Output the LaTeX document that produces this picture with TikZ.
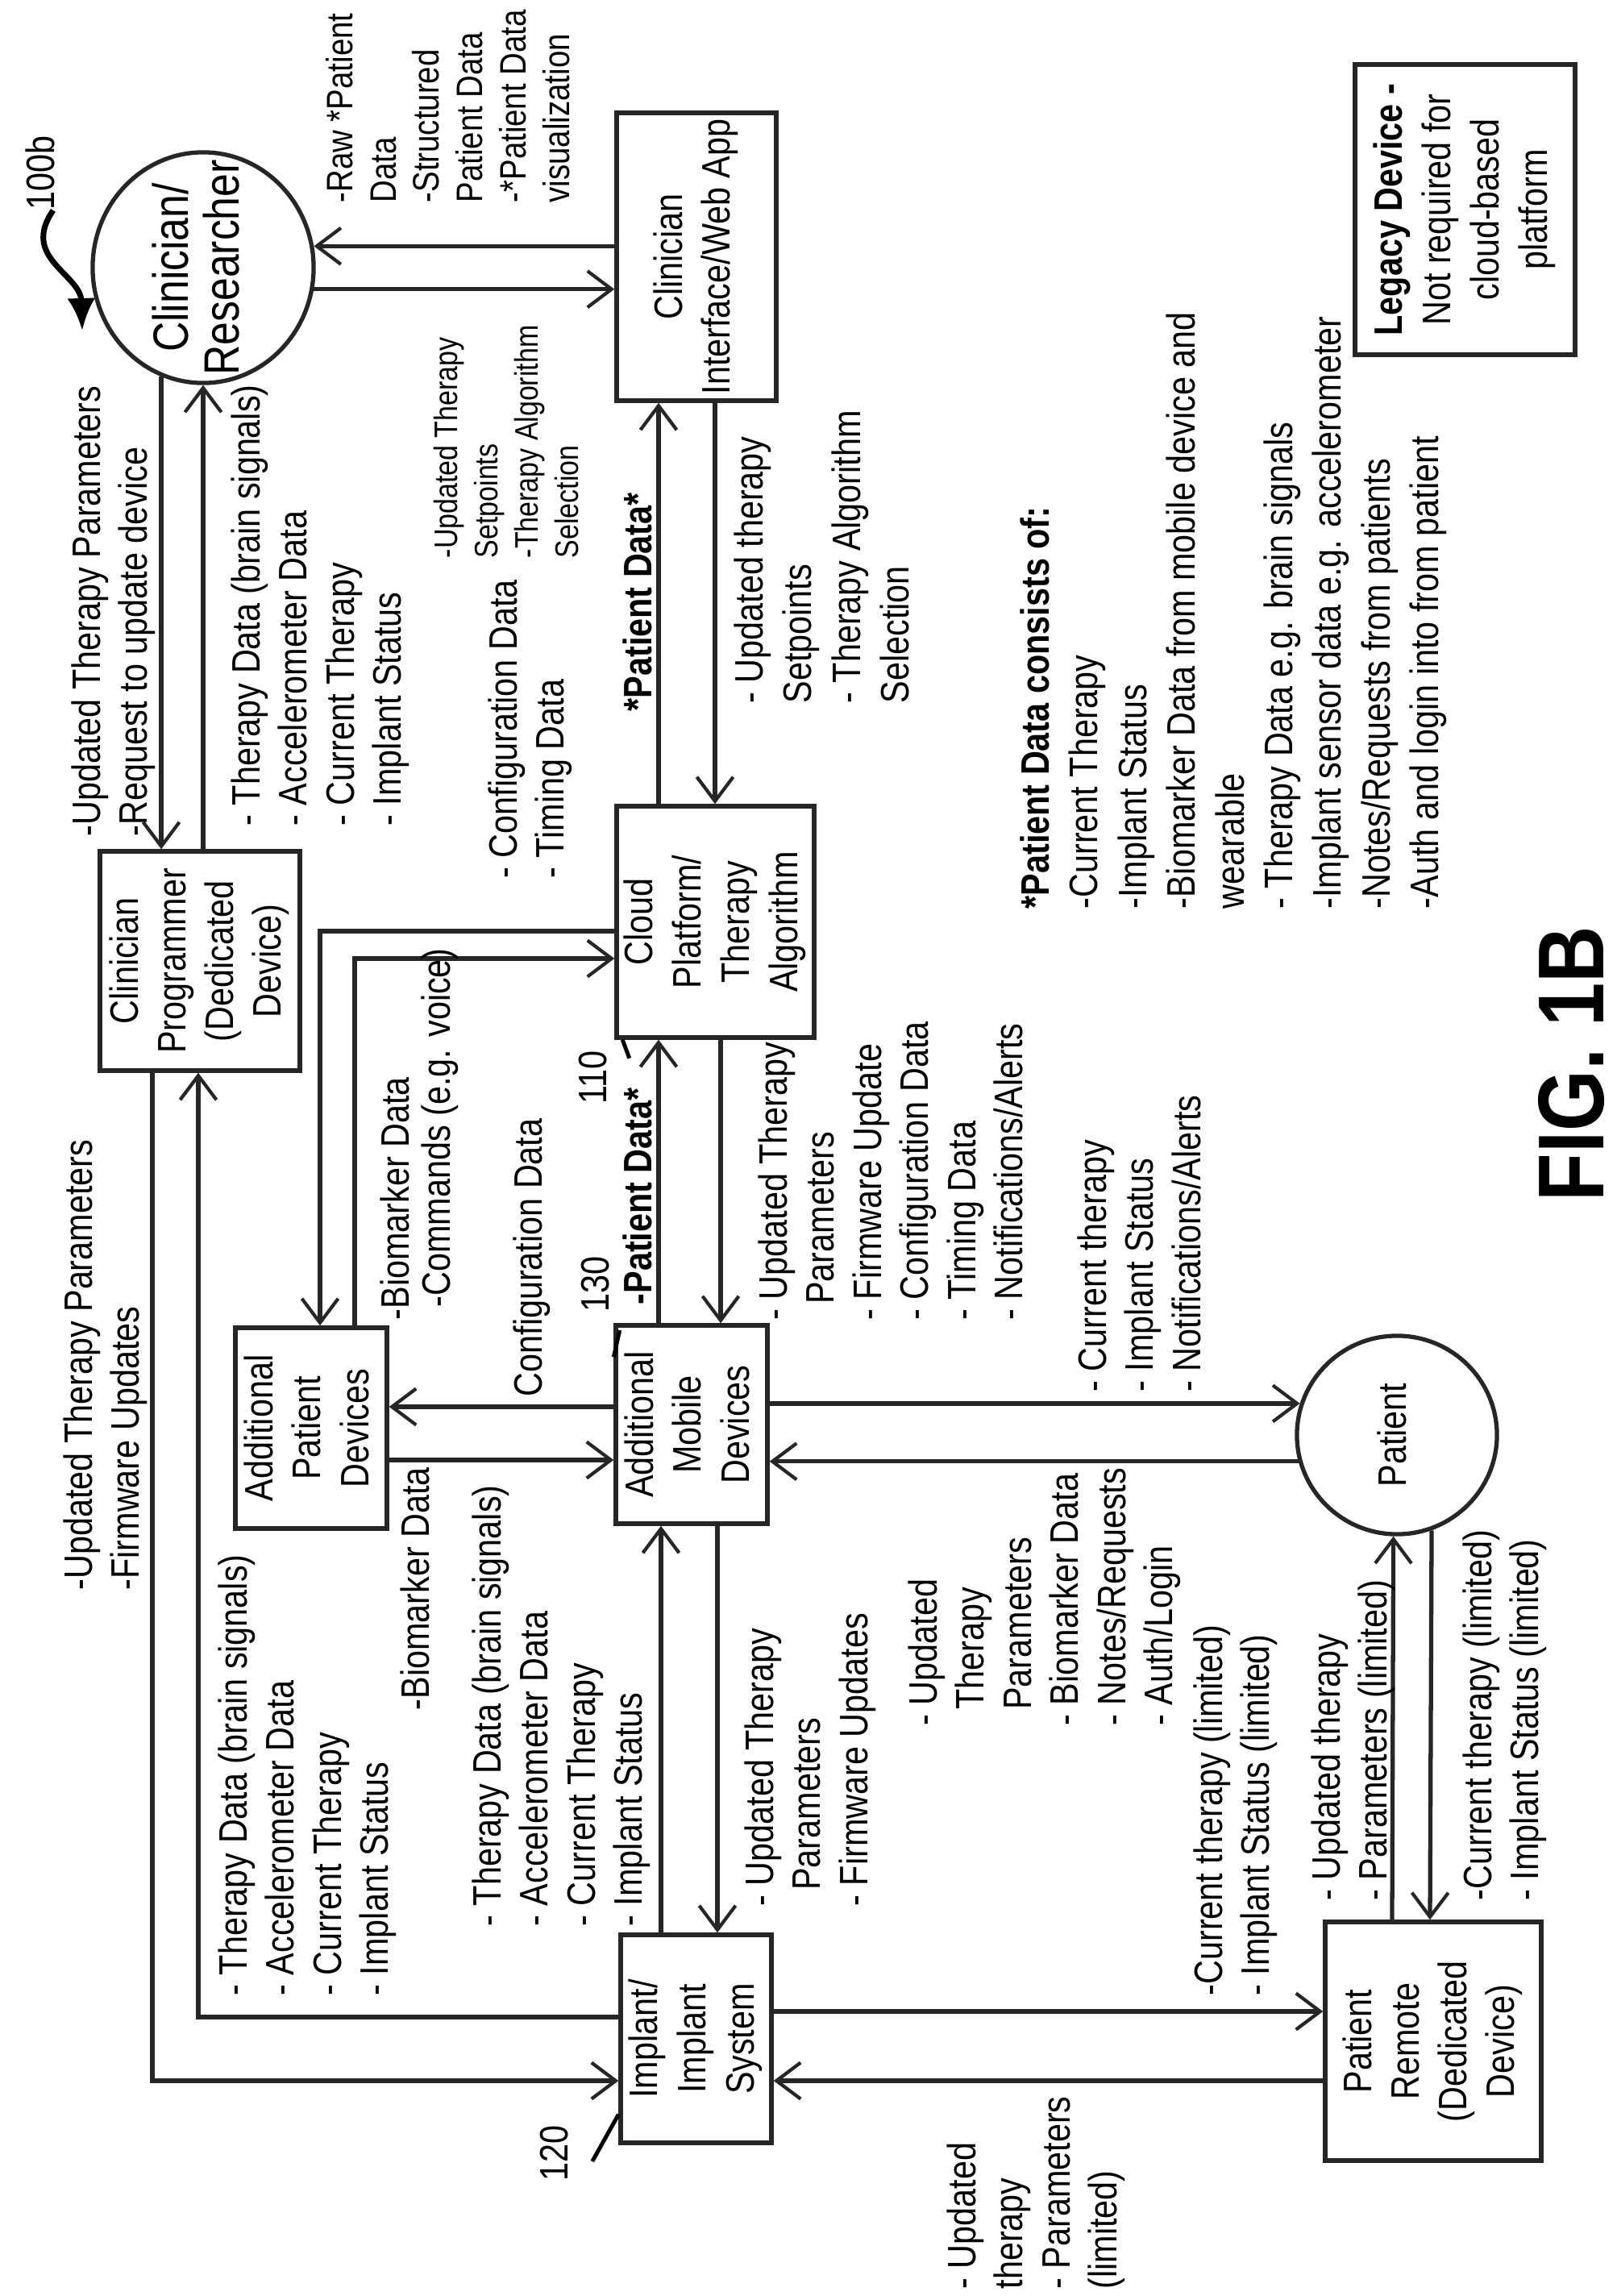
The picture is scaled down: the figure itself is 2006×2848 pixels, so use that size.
\documentclass[tikz,border=0pt]{standalone}
\usepackage{fontspec}
\setmainfont{Liberation Sans}[FakeStretch=0.84]
\usetikzlibrary{arrows.meta,shapes.geometric,calc}
\newcommand\rtl[1]{\rotatebox{90}{\begin{tabular}{@{}l@{}}#1\end{tabular}}}
\newcommand\rtc[1]{\rotatebox{90}{\begin{tabular}{@{}c@{}}#1\end{tabular}}}
\begin{document}
\begin{tikzpicture}[x=0.01cm,y=-0.01cm,
  ln/.style={draw=black!85,line width=1.5pt},
  arr/.style={ln,-{Straight Barb[length=3mm,width=4.5mm,line width=1.2pt]}},
  box/.style={draw=black!85,line width=1.5pt,rectangle,inner sep=0pt,font=\fontsize{14}{16.8}\selectfont},
  circ/.style={draw=black!85,line width=1.5pt,ellipse,inner xsep=0pt,inner ysep=-0.6cm},
  lbl/.style={inner sep=0pt,anchor=south west,font=\fontsize{14}{16.6}\selectfont},
  sml/.style={lbl,font=\fontsize{11.5}{14.2}\selectfont},
  bl/.style={lbl,font=\bfseries\fontsize{14}{17}\selectfont}]
\useasboundingbox (0,0) rectangle (2006,2848);
% nodes
\node[circ,minimum width=2.74cm,minimum height=2.86cm,font=\fontsize{17.5}{17.5}\selectfont] (cr) at (252,332) {\rtc{Clinician/\\Researcher}};
\node[circ,minimum width=2.48cm,minimum height=2.46cm,font=\fontsize{14}{17}\selectfont] (pt) at (1733,1780) {\rtc{Patient}};
\node[box,minimum width=2.48cm,minimum height=2.72cm] (cp) at (248,1192) {\rtc{Clinician\\Programmer\\(Dedicated\\Device)}};
\node[box,minimum width=1.98cm,minimum height=3.57cm] (ciwa) at (864,318.5) {\rtc{Clinician\\Interface/Web App}};
\node[box,minimum width=2.45cm,minimum height=2.87cm,font=\fontsize{14}{17}\selectfont] (cloud) at (887.5,1143.5) {\rtc{Cloud\\Platform/\\Therapy\\Algorithm}};
\node[box,minimum width=1.88cm,minimum height=2.49cm,font=\fontsize{14}{17}\selectfont] (apd) at (386,1771.5) {\rtc{Additional\\Patient\\Devices}};
\node[box,minimum width=1.88cm,minimum height=2.46cm,font=\fontsize{14}{17}\selectfont] (amd) at (858,1767) {\rtc{Additional\\Mobile\\Devices}};
\node[box,minimum width=1.87cm,minimum height=2.58cm,font=\fontsize{14}{17}\selectfont] (imp) at (863.5,2529) {\rtc{Implant/\\Implant\\System}};
\node[box,minimum width=2.68cm,minimum height=2.96cm] (pr) at (1778,2532) {\rtc{Patient\\Remote\\(Dedicated\\Device)}};
\node[box,minimum width=2.73cm,minimum height=3.60cm,font=\fontsize{14}{17}\selectfont] (legacy) at (1817.5,260) {\rtc{\textbf{Legacy Device -}\\Not required for\\cloud-based\\platform}};
% connectors
\draw[arr] (cr.-11.8) -- (cr.-11.8 -| ciwa.west);
\draw[arr] (cr.11.35 -| ciwa.west) -- (cr.11.35);
\draw[arr] (cr.-111) -- (cr.-111 |- cp.north);
\draw[arr] (cr.-90 |- cp.north) -- (cr.-90);
\draw[arr] (817,0 |- cloud.north) -- (817,0 |- ciwa.south);
\draw[arr] (887,0 |- ciwa.south) -- (887,0 |- cloud.north);
\draw[arr] (cloud.west |- 0,1155) -- (397,1155) -- (397,0 |- apd.north);
\draw[arr] (440,0 |- apd.north) -- (440,1189) -- (cloud.west |- 0,1189);
\draw[arr] (amd.west |- 0,1745) -- (apd.east |- 0,1745);
\draw[arr] (apd.east |- 0,1811) -- (amd.west |- 0,1811);
\draw[arr] (894,0 |- cloud.south) -- (894,0 |- amd.north);
\draw[arr] (817,0 |- amd.north) -- (817,0 |- cloud.south);
\draw[arr] (amd.east |- pt.162.6) -- (pt.162.6);
\draw[arr] (pt.195.4) -- (amd.east |- pt.195.4);
\draw[arr] (820,0 |- imp.north) -- (820,0 |- amd.south);
\draw[arr] (890,0 |- amd.south) -- (890,0 |- imp.north);
\draw[arr] (189,0 |- cp.south) -- (189,2581) -- (imp.west |- 0,2581);
\draw[arr] (imp.west |- 0,2502) -- (246,2502) -- (246,0 |- cp.south);
\draw[arr] (imp.east |- 0,2495) -- (pr.west |- 0,2495);
\draw[arr] (pr.west |- 0,2581) -- (imp.east |- 0,2581);
\draw[arr] (1727,0 |- pr.north) -- (pt.-92.8);
\draw[arr] (pt.-70.7) -- (1774,0 |- pr.north);
% reference numerals
\node[lbl] (n100) at (26,261) {\rtl{100b}};
\draw[line width=2pt,-{Latex[length=4mm,width=3.5mm]}] ([xshift=0.1cm]n100.south) .. controls (25,320) and (100,340) .. (102,410);
\node[lbl] (n110) at (711,1370) {\rtl{110}};
\draw[line width=1.4pt] ([xshift=0.1cm,yshift=-0.1cm]n110.north east) -- ([xshift=0.1cm]cloud.south west);
\node[lbl] (n120) at (663,2706) {\rtl{120}};
\draw[line width=1.4pt] ([xshift=0.12cm,yshift=0.25cm]n120.south east) -- ([yshift=0.38cm]imp.south west);
\node[lbl] (n130) at (714,1628) {\rtl{130}};
\draw[line width=1.4pt] ([xshift=-0.05cm,yshift=-0.22cm]n130.south east) -- ([yshift=-0.42cm]amd.north west);
% labels
\node[lbl] at (83,1038) {\rtl{-Updated Therapy Parameters\\-Request to update device}};
\node[lbl] at (281,1025) {\rtl{- Therapy Data (brain signals)\\- Accelerometer Data\\- Current Therapy\\- Implant Status}};
\node[lbl,font=\fontsize{13}{15.3}\selectfont] at (399,252) {\rtl{-Raw *Patient\\Data\\-Structured\\*Patient Data\\-*Patient Data\\visualization}};
\node[sml] at (532,693) {\rtl{-Updated Therapy\\Setpoints\\-Therapy Algorithm\\Selection}};
\node[lbl] at (600,1090) {\rtl{- Configuration Data\\- Timing Data}};
\node[bl] at (766,883) {\rtl{*Patient Data*}};
\node[lbl,font=\fontsize{14}{17.2}\selectfont] at (903,873) {\rtl{- Updated therapy\\Setpoints\\- Therapy Algorithm\\Selection}};
\node[bl] at (766,1619) {\rtl{-Patient Data*}};
\node[lbl] at (466,1638) {\rtl{-Biomarker Data}};
\node[lbl] at (517,1622) {\rtl{-Commands (e.g. voice)}};
\node[lbl] at (631,1733) {\rtl{Configuration Data}};
\node[lbl] at (491,2122) {\rtl{-Biomarker Data}};
\node[lbl] at (73,1973) {\rtl{-Updated Therapy Parameters\\-Firmware Updates}};
\node[lbl] at (265,2476) {\rtl{- Therapy Data (brain signals)\\- Accelerometer Data\\- Current Therapy\\- Implant Status}};
\node[lbl] at (580,2390) {\rtl{- Therapy Data (brain signals)\\- Accelerometer Data\\- Current Therapy\\- Implant Status}};
\node[lbl] at (918,2365) {\rtl{- Updated Therapy\\\hspace{0.4em}Parameters\\- Firmware Updates}};
\node[lbl] at (935,1638) {\rtl{- Updated Therapy\\\hspace{0.4em}Parameters\\- Firmware Update\\- Configuration Data\\- Timing Data\\- Notifications/Alerts}};
\node[lbl] at (1331,1727) {\rtl{- Current therapy\\- Implant Status\\- Notifications/Alerts}};
\node[lbl] at (1121,2141) {\rtl{- Updated\\\hspace{0.4em}Therapy\\\hspace{0.4em}Parameters\\- Biomarker Data\\- Notes/Requests\\- Auth/Login}};
\node[lbl] at (1475,2476) {\rtl{-Current therapy (limited)\\- Implant Status (limited)}};
\node[lbl] at (1621,2358) {\rtl{- Updated therapy\\- Parameters (limited)}};
\node[lbl] at (1809,2358) {\rtl{-Current therapy (limited)\\- Implant Status (limited)}};
\node[lbl] at (1169,2840) {\rtl{- Updated\\therapy\\- Parameters\\(limited)}};
\node[lbl,font=\fontsize{14}{17.2}\selectfont] at (1258,1128) {\rtl{\textbf{*Patient Data consists of:}\\-Current Therapy\\-Implant Status\\-Biomarker Data from mobile device and\\wearable\\- Therapy Data e.g. brain signals\\-Implant sensor data e.g. accelerometer\\-Notes/Requests from patients\\-Auth and login into from patient}};
\node[lbl,font=\bfseries\fontsize{33}{36}\selectfont] (fig) at (1900,1491) {\rtl{FIG. 1B}};
\end{tikzpicture}
\end{document}
